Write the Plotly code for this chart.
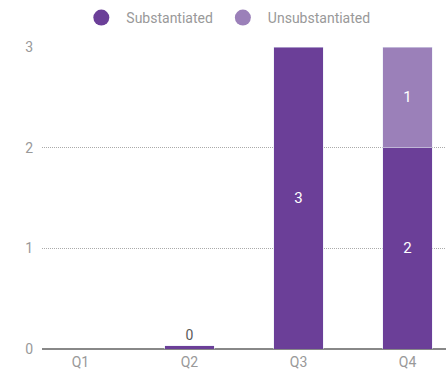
import plotly.graph_objects as go

quarters = ["Q1", "Q2", "Q3", "Q4"]
substantiated = [None, 0.03, 3, 2]
unsubstantiated = [None, None, None, 1]
y_ticks = [0, 1, 2, 3]

dark = "#6B3F98"
light = "#9B80B9"
font = "Roboto"

fig = go.Figure()

# stacked bars (legend handled by circle markers below)
fig.add_trace(go.Bar(
    x=quarters, y=substantiated, name="Substantiated", marker_color=dark,
    width=0.45, showlegend=False,
    texttemplate="%{y:.0f}", textposition="auto",
    insidetextanchor="middle",
    insidetextfont=dict(color="white", size=15, family=font),
    outsidetextfont=dict(color="#5a5a5a", size=14, family=font),
    cliponaxis=False,
))
fig.add_trace(go.Bar(
    x=quarters, y=unsubstantiated, name="Unsubstantiated", marker_color=light,
    width=0.45, showlegend=False,
    texttemplate="%{y:.0f}", textposition="inside",
    insidetextanchor="middle",
    insidetextfont=dict(color="white", size=15, family=font),
))

# circular legend entries
for name, col in [("Substantiated", dark), ("Unsubstantiated", light)]:
    fig.add_trace(go.Scatter(
        x=[None], y=[None], mode="markers", name=name,
        marker=dict(symbol="circle", size=16, color=col),
    ))

fig.update_layout(
    width=446, height=371,
    barmode="stack",
    margin=dict(l=42, r=0, t=47, b=22),
    plot_bgcolor="white", paper_bgcolor="white",
    font=dict(family=font, color="#999999", size=13),
    legend=dict(orientation="h", x=0.455, xanchor="center", y=1.096,
                yanchor="middle", font=dict(size=14, color="#999999"),
                traceorder="normal", itemwidth=40, tracegroupgap=0),
)
fig.update_xaxes(
    range=[-0.353, 3.353], showgrid=False, showline=False,
    ticks="", tickfont=dict(size=14, color="#999999"), zeroline=False,
    ticklabelstandoff=3,
)
fig.update_yaxes(
    range=[0, 3], tickvals=y_ticks, showgrid=True,
    gridcolor="#aaaaaa", griddash="1px,1px", gridwidth=1,
    zeroline=True, zerolinecolor="#888888", zerolinewidth=2,
    showline=False, ticks="", ticklabelstandoff=8,
    tickfont=dict(size=14, color="#999999"),
)

fig.write_html("out.html")
